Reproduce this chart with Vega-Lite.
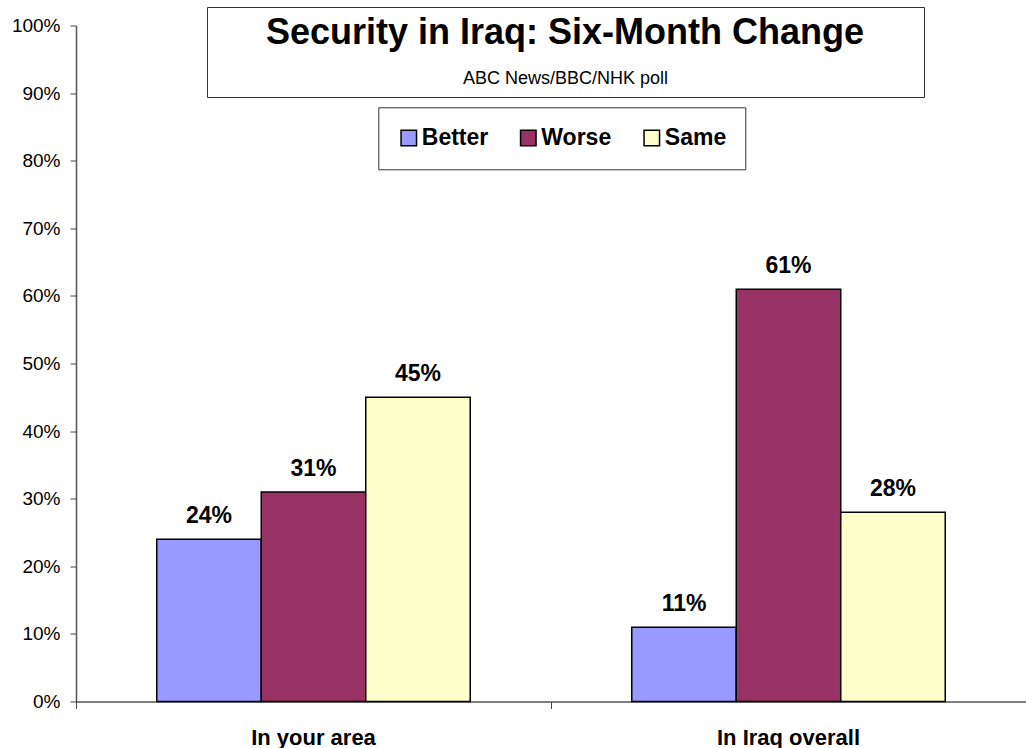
{
  "$schema": "https://vega.github.io/schema/vega-lite/v6.json",
  "width": 950,
  "height": 676,
  "autosize": {"type": "none"},
  "padding": {"left": 76, "top": 25.5, "right": 0, "bottom": 47},
  "background": "white",
  "config": {
    "font": "Liberation Sans",
    "view": {"stroke": null},
    "axis": {"grid": false, "labelColor": "black", "labelFont": "Liberation Sans"}
  },
  "data": {
    "values": [
      {"area": "In your area", "answer": "Better", "value": 0.24},
      {"area": "In your area", "answer": "Worse", "value": 0.31},
      {"area": "In your area", "answer": "Same", "value": 0.45},
      {"area": "In Iraq overall", "answer": "Better", "value": 0.11},
      {"area": "In Iraq overall", "answer": "Worse", "value": 0.61},
      {"area": "In Iraq overall", "answer": "Same", "value": 0.28}
    ]
  },
  "encoding": {
    "x": {
      "field": "area", "type": "nominal", "sort": ["In your area", "In Iraq overall"],
      "scale": {"paddingInner": 0, "paddingOuter": 0},
      "axis": {
        "title": null, "labelAngle": 0, "labelFontSize": 22, "labelFontWeight": "bold",
        "labelPadding": 19, "tickSize": 7, "bandPosition": 0,
        "domainColor": "#555", "domainWidth": 1.5, "tickColor": "#444", "tickWidth": 1
      }
    },
    "xOffset": {
      "field": "answer", "type": "nominal", "sort": ["Better", "Worse", "Same"],
      "scale": {"paddingInner": 0, "paddingOuter": 0.773}
    },
    "y": {
      "field": "value", "type": "quantitative",
      "scale": {"domain": [0, 1], "nice": false},
      "axis": {
        "title": null, "format": ".0%", "values": [0, 0.1, 0.2, 0.3, 0.4, 0.5, 0.6, 0.7, 0.8, 0.9, 1],
        "labelFontSize": 19, "labelPadding": 10, "tickSize": 6,
        "domainColor": "#555", "domainWidth": 1.5, "tickColor": "#444", "tickWidth": 1
      }
    }
  },
  "layer": [
    {
      "data": {"values": [{}]},
      "mark": {"type": "rule", "color": "#888", "strokeWidth": 1.5},
      "encoding": {"y": {"datum": 1}, "x": null, "xOffset": null}
    },
    {
      "mark": {"type": "bar", "stroke": "black", "strokeWidth": 1.5},
      "encoding": {
        "color": {
          "field": "answer", "type": "nominal",
          "scale": {"domain": ["Better", "Worse", "Same"], "range": ["#9999FF", "#993366", "#FFFFCC"]},
          "legend": {
            "orient": "none", "legendX": 302.3, "legendY": 81.8, "direction": "horizontal",
            "title": null, "symbolType": "square", "symbolSize": 240,
            "symbolStrokeColor": "black", "symbolStrokeWidth": 1.5,
            "labelFontSize": 23, "labelFontWeight": "bold", "labelColor": "black",
            "labelOffset": 1.5, "columnPadding": 28.5, "padding": 19,
            "strokeColor": "#333", "fillColor": "white"
          }
        }
      }
    },
    {
      "mark": {"type": "text", "dy": -16, "baseline": "alphabetic", "fontSize": 23, "fontWeight": "bold", "color": "black"},
      "encoding": {
        "text": {"field": "value", "type": "quantitative", "format": ".0%"}
      }
    },
    {
      "data": {"values": [{"source": "ABC News/BBC/NHK poll"}]},
      "mark": {"type": "point", "opacity": 0},
      "encoding": {
        "x": null, "xOffset": null, "y": null,
        "shape": {
          "field": "source", "type": "nominal",
          "legend": {
            "orient": "none", "legendX": 131, "legendY": -18.5,
            "title": "\u200b\u00a0\u00a0\u00a0\u00a0\u00a0Security in Iraq: Six-Month Change\u00a0\u00a0\u00a0\u00a0\u00a0\u200b",
            "titleFontSize": 36, "titleFontWeight": "bold", "titleColor": "black",
            "titleLimit": 3000, "titleAnchor": "middle", "titlePadding": 18,
            "symbolSize": 0, "symbolStrokeWidth": 0, "symbolOpacity": 0,
            "labelFontSize": 18, "labelColor": "black", "labelLimit": 2000,
            "labelOffset": -16, "padding": 9,
            "strokeColor": "#333", "fillColor": "white"
          }
        }
      }
    }
  ]
}
